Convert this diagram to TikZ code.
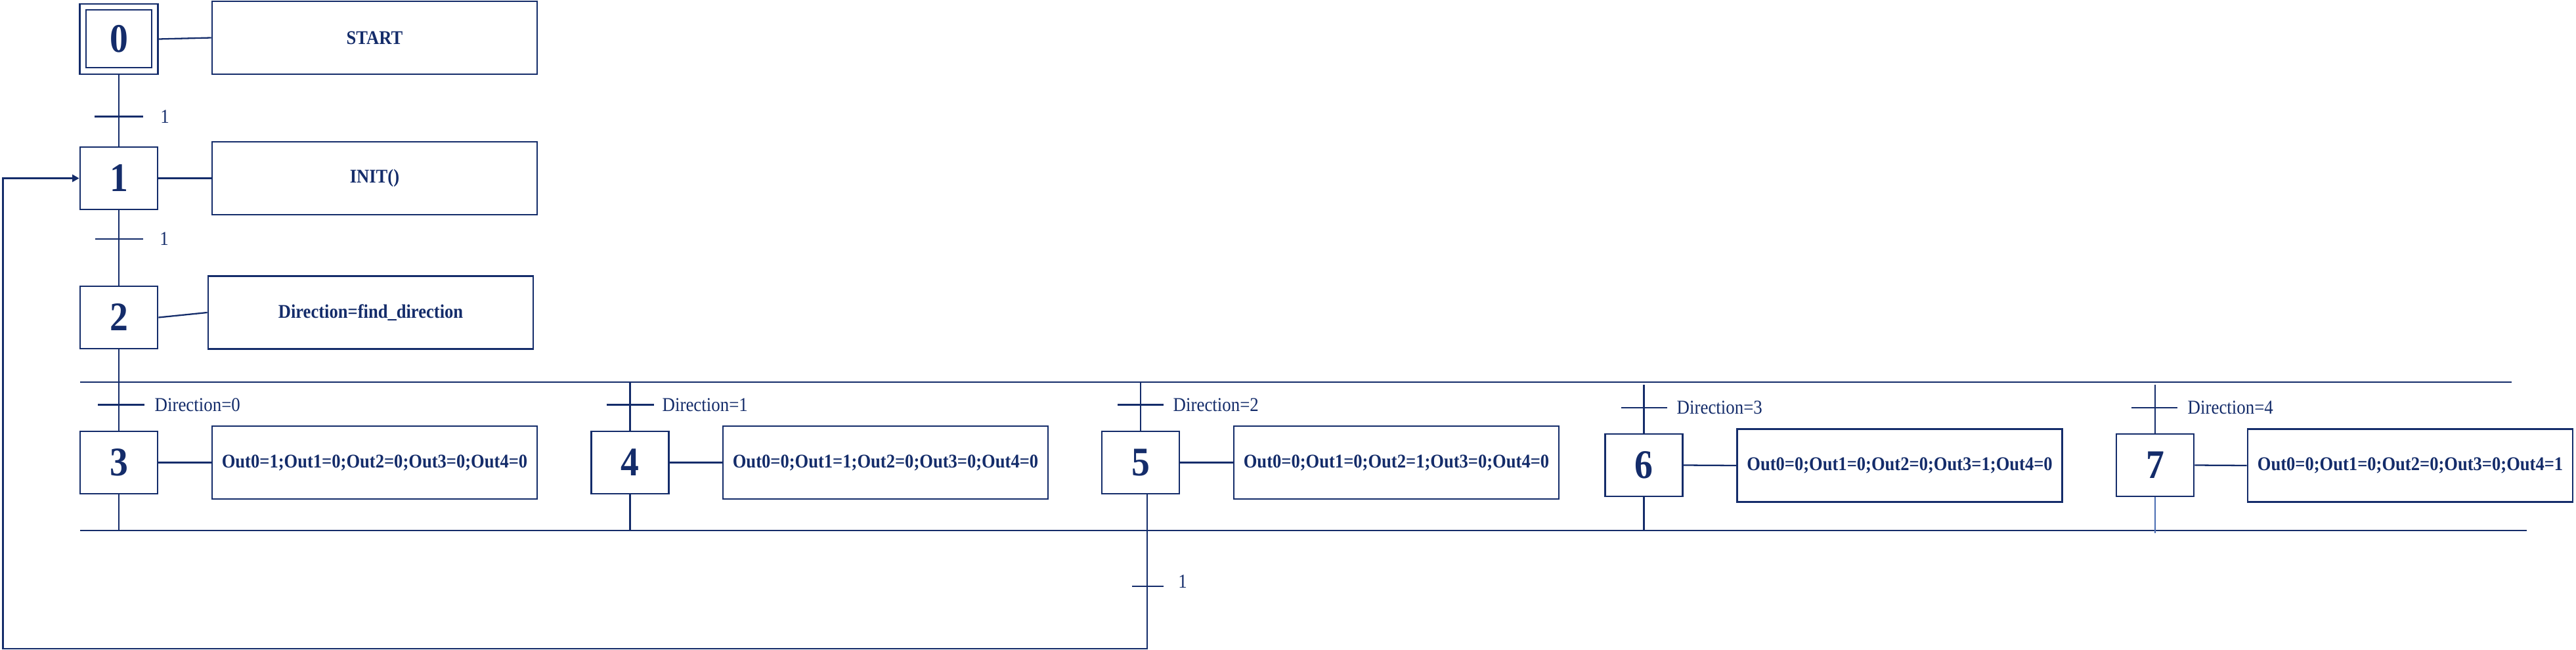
\documentclass[tikz,border=0pt]{standalone}
\usepackage{fontspec}
\setmainfont{Liberation Serif}[FakeStretch=0.9]
\usepackage{tikz}
\usetikzlibrary{arrows.meta,calc}
\definecolor{grafnavy}{HTML}{142C6A}
\definecolor{grafblue}{HTML}{4A6DB3}

\tikzset{
  stepbox/.style={draw=grafnavy, line width=0.8pt, minimum width=1.18cm, minimum height=0.95cm, inner sep=0pt, text=grafnavy, font=\fontsize{17.6}{20}\selectfont\bfseries},
  actbox/.style={draw=grafnavy, line width=0.8pt, minimum width=4.95cm, minimum height=1.11cm, inner sep=0pt, text=grafnavy, font=\fontsize{8.4}{10}\selectfont\bfseries},
  link/.style={grafnavy, line width=0.65pt},
  bar/.style={grafnavy, line width=0.7pt},
  cond/.style={text=grafnavy, inner sep=0pt, anchor=west, font=\fontsize{8.5}{10}\selectfont}
}

\begin{document}
\begin{tikzpicture}
  \useasboundingbox (0,0) rectangle (39.23,9.89);

  % Initial step
  \node[stepbox, minimum width=1.185cm, minimum height=1.07cm] (s0) at (1.81,9.295) {0};
  \node[draw=grafnavy, line width=0.8pt, minimum width=1.0cm, minimum height=0.88cm, inner sep=0pt] (s0in) at (1.81,9.30) {};
  \node[actbox] (start) at (5.705,9.315) {START};
  \draw[link] (s0.east) -- (start.west);

  % Step 1
  \node[stepbox] (s1) at (1.81,7.175) {1};
  \node[actbox] (init) at (5.705,7.175) {INIT()};
  \draw[link] (s1.east) -- (init.west);
  \draw[link] (s0.south) -- (s1.north);
  \coordinate (t01) at (1.81,8.115);
  \draw[bar] ([xshift=-0.37cm]t01) -- ([xshift=0.37cm]t01);
  \node[cond, anchor=center] (t01lbl) at (2.51,8.115) {1};

  % Step 2
  \node[stepbox] (s2) at (1.81,5.055) {2};
  \node[actbox] (dir) at (5.645,5.13) {Direction=find\_direction};
  \draw[link] (s2.east) -- (dir.west);
  \draw[link] (s1.south) -- (s2.north);
  \coordinate (t12) at (1.81,6.25);
  \draw[bar] ([xshift=-0.36cm]t12) -- ([xshift=0.37cm]t12);
  \node[cond, anchor=center] (t12lbl) at (2.50,6.25) {1};

  % Divergence / convergence lines
  \coordinate (divL) at (1.22,4.07);
  \coordinate (divR) at (38.25,4.07);
  \coordinate (convL) at (1.22,1.81);
  \coordinate (convR) at (38.48,1.81);
  \draw[link] (divL) -- (divR);
  \draw[link, line width=0.5pt] (convL) -- (convR);
  \draw[link] (s2.south) -- (s2.south |- divL);

  % Direction=0
  \node[stepbox] (s3) at (1.81,2.845) {3};
  \node[actbox] (a3) at (5.705,2.845) {Out0=1;Out1=0;Out2=0;Out3=0;Out4=0};
  \draw[link] (s3.east) -- (a3.west);
  \draw[link] (s3.north |- divL) -- (s3.north);
  \draw[link] (s3.south) -- (s3.south |- convL);
  \coordinate (t3) at (1.81,3.725);
  \draw[bar] ([xshift=-0.32cm]t3) -- ([xshift=0.39cm]t3);
  \node[cond] (t3lbl) at (2.35,3.725) {Direction=0};

  % Direction=1
  \node[stepbox] (s4) at (9.595,2.845) {4};
  \node[actbox] (a4) at (13.485,2.845) {Out0=0;Out1=1;Out2=0;Out3=0;Out4=0};
  \draw[link] (s4.east) -- (a4.west);
  \draw[link] (s4.north |- divL) -- (s4.north);
  \draw[link] (s4.south) -- (s4.south |- convL);
  \coordinate (t4) at (9.595,3.725);
  \draw[bar] ([xshift=-0.36cm]t4) -- ([xshift=0.36cm]t4);
  \node[cond] (t4lbl) at (10.08,3.725) {Direction=1};

  % Direction=2
  \node[stepbox] (s5) at (17.37,2.845) {5};
  \node[actbox] (a5) at (21.265,2.845) {Out0=0;Out1=0;Out2=1;Out3=0;Out4=0};
  \draw[link] (s5.east) -- (a5.west);
  \draw[link] (s5.north |- divL) -- (s5.north);
  \coordinate (t5) at (17.37,3.725);
  \draw[bar] ([xshift=-0.35cm]t5) -- ([xshift=0.35cm]t5);
  \node[cond] (t5lbl) at (17.86,3.725) {Direction=2};

  % Direction=3
  \node[stepbox] (s6) at (25.035,2.805) {6};
  \node[actbox] (a6) at (28.93,2.80) {Out0=0;Out1=0;Out2=0;Out3=1;Out4=0};
  \draw[link] (s6.east) -- (a6.west);
  \draw[link] ([yshift=-0.04cm]s6.north |- divL) -- (s6.north);
  \draw[link] (s6.south) -- (s6.south |- convL);
  \coordinate (t6) at (25.035,3.68);
  \draw[bar] ([xshift=-0.35cm]t6) -- ([xshift=0.35cm]t6);
  \node[cond] (t6lbl) at (25.53,3.68) {Direction=3};

  % Direction=4
  \node[stepbox] (s7) at (32.82,2.805) {7};
  \node[actbox] (a7) at (36.705,2.80) {Out0=0;Out1=0;Out2=0;Out3=0;Out4=1};
  \draw[link] (s7.east) -- (a7.west);
  \draw[link] ([yshift=-0.04cm]s7.north |- divL) -- (s7.north);
  \draw[grafblue, line width=0.4pt] (s7.south) -- ([yshift=-0.04cm]s7.south |- convL);
  \coordinate (t7) at (32.82,3.68);
  \draw[bar] ([xshift=-0.36cm]t7) -- ([xshift=0.34cm]t7);
  \node[cond] (t7lbl) at (33.31,3.68) {Direction=4};

  % Return to step 1
  \coordinate (retB) at (0.046,0.01);
  \draw[link, -{Triangle[length=3pt,width=3.2pt]}] ([xshift=0.1cm]s5.south) -- ([xshift=0.1cm]s5.south |- retB) -- (retB) |- (s1.west);
  \coordinate (t51) at (17.47,0.96);
  \draw[bar] ([xshift=-0.23cm]t51) -- ([xshift=0.25cm]t51);
  \node[cond, anchor=center] (t51lbl) at (18.01,1.03) {1};
\end{tikzpicture}
\end{document}
